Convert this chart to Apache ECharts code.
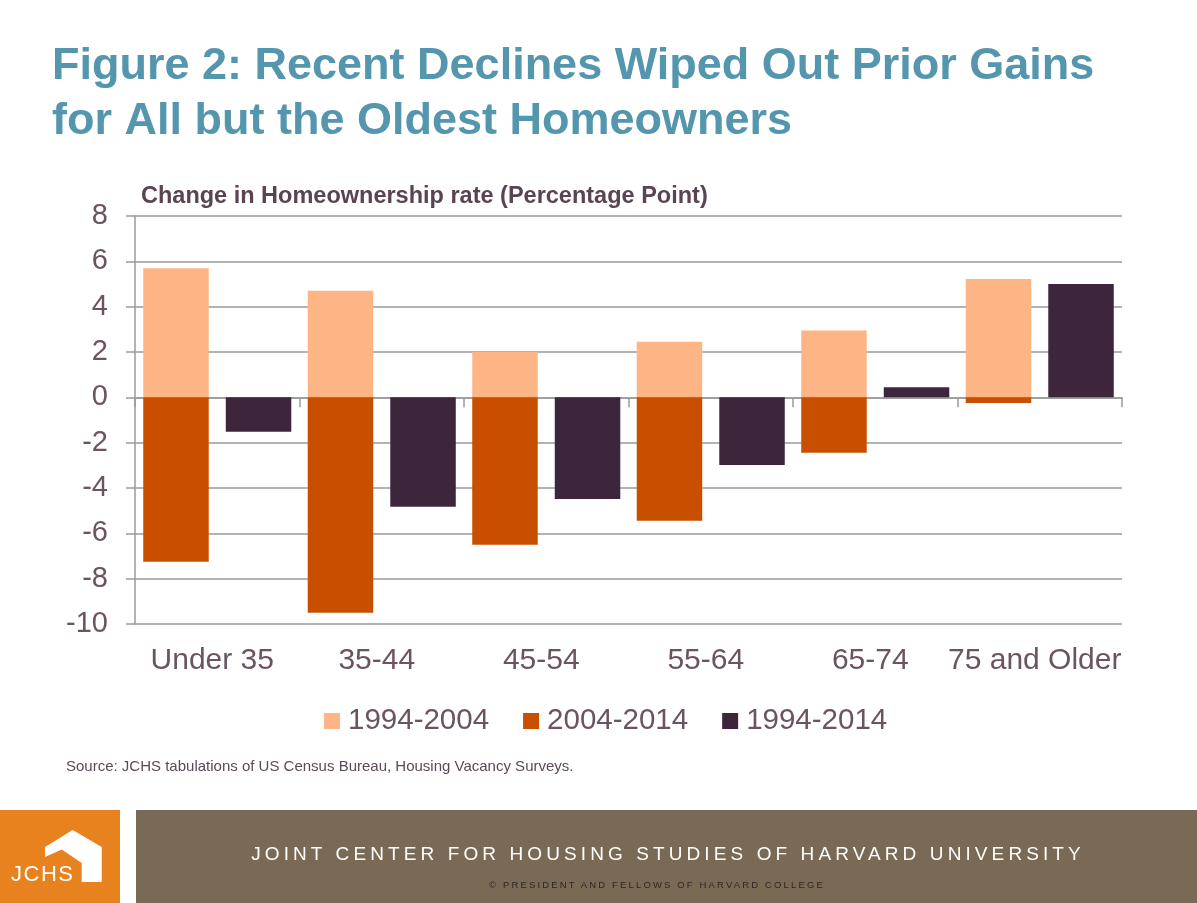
<!DOCTYPE html>
<html>
<head>
<meta charset="utf-8">
<script src="https://cdn.jsdelivr.net/npm/echarts@6/dist/echarts.min.js"></script>
<style>
html,body{margin:0;padding:0;background:#fff;}
#wrap{position:relative;width:1197px;height:903px;}
#c{width:1197px;height:903px;}
.ov{position:absolute;white-space:nowrap;font-family:'Liberation Sans',Arial,sans-serif;line-height:1;}
</style>
</head>
<body>
<div id="wrap">
<div id="c"></div>
<div class="ov" style="left:11px;top:863px;font-size:22px;color:#fff;letter-spacing:1.5px;">JCHS</div>
<div class="ov" style="left:0;width:1336px;top:844px;text-align:center;font-size:19px;color:#fff;letter-spacing:4.1px;">JOINT CENTER FOR HOUSING STUDIES OF HARVARD UNIVERSITY</div>
<div class="ov" style="left:0;width:1314px;top:880px;text-align:center;font-size:9.5px;color:#2e2626;letter-spacing:2.15px;">© PRESIDENT AND FELLOWS OF HARVARD COLLEGE</div>
</div>
<script>
const categories = ['Under 35', '35-44', '45-54', '55-64', '65-74', '75 and Older'];
const seriesNames = ['1994-2004', '2004-2014', '1994-2014'];
const change1994_2004 = [5.7, 4.7, 2.0, 2.45, 2.95, 5.22];
const change2004_2014 = [-7.25, -9.5, -6.5, -5.45, -2.45, -0.25];
const change1994_2014 = [-1.52, -4.83, -4.48, -2.98, 0.45, 5.0];
const yTicks = {min: -10, max: 8, interval: 2};

const labelColor = '#6b5462';
const gridColor = '#9a9a9a';
const font = 'Liberation Sans, Arial, sans-serif';

const chart = echarts.init(document.getElementById('c'), null, {renderer: 'canvas'});
chart.setOption({
  animation: false,
  backgroundColor: '#ffffff',
  grid: {left: 135, right: 75, top: 216, bottom: 279, containLabel: false},
  legend: {
    data: seriesNames,
    left: 319, top: 701,
    icon: 'rect', itemWidth: 16, itemHeight: 16, itemGap: 34,
    textStyle: {fontSize: 29.5, color: labelColor, fontFamily: font, padding: [0, 0, 0, 3]}
  },
  xAxis: {
    type: 'category', data: categories,
    axisLine: {onZero: true, lineStyle: {color: gridColor, width: 1.5}},
    axisTick: {show: true, length: 10, lineStyle: {color: gridColor, width: 1.5}},
    axisLabel: {margin: 22, fontSize: 30, color: labelColor, fontFamily: font, interval: 0, padding: [0, 10, 0, 0]}
  },
  yAxis: {
    type: 'value', min: yTicks.min, max: yTicks.max, interval: yTicks.interval,
    axisLine: {show: true, lineStyle: {color: gridColor, width: 1.5}},
    axisTick: {show: true, length: 9, lineStyle: {color: gridColor, width: 1.5}},
    splitLine: {show: true, lineStyle: {color: gridColor, width: 1.5}},
    axisLabel: {margin: 27, fontSize: 29, color: labelColor, fontFamily: font}
  },
  series: [
    {name: seriesNames[0], type: 'bar', stack: 'a', data: change1994_2004,
     itemStyle: {color: '#feb585'}, barCategoryGap: '10%', barGap: '26%'},
    {name: seriesNames[1], type: 'bar', stack: 'a', data: change2004_2014,
     itemStyle: {color: '#c94f00'}},
    {name: seriesNames[2], type: 'bar', data: change1994_2014,
     itemStyle: {color: '#3d263b'}}
  ],
  graphic: [
    {type: 'text', left: 52, top: 44, style: {text: 'Figure 2: Recent Declines Wiped Out Prior Gains', fill: '#5496ae', font: 'bold 45px ' + font}},
    {type: 'text', left: 52, top: 99, style: {text: 'for All but the Oldest Homeowners', fill: '#5496ae', font: 'bold 45px ' + font}},
    {type: 'text', left: 141, top: 185, style: {text: 'Change in Homeownership rate (Percentage Point)', fill: '#5a4352', font: 'bold 23.5px ' + font}},
    {type: 'text', left: 66, top: 759, style: {text: 'Source: JCHS tabulations of US Census Bureau, Housing Vacancy Surveys.', fill: '#5a4a58', font: '15px ' + font}},
    {type: 'rect', shape: {x: 0, y: 810, width: 120, height: 93}, style: {fill: '#e8821e'}},
    {type: 'rect', shape: {x: 136, y: 810, width: 1061, height: 93}, style: {fill: '#7a6a55'}},
    {type: 'polygon', shape: {points: [[72.7,830],[101.7,847],[101.7,882],[81.7,882],[81.7,863],[61.7,849.5],[45,857],[45,847]]}, style: {fill: '#ffffff'}}
  ]
});
</script>
</body>
</html>
